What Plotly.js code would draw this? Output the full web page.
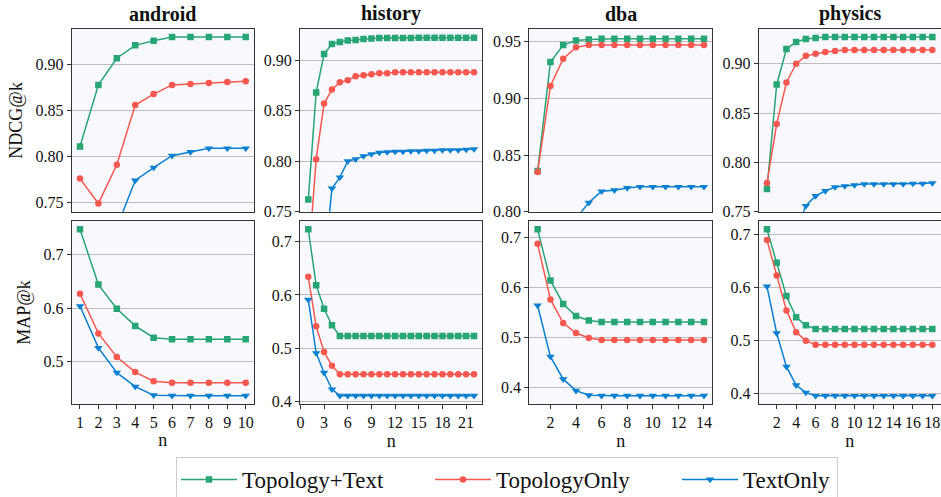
<!DOCTYPE html>
<html>
<head>
<meta charset="utf-8">
<script src="https://cdn.plot.ly/plotly-3.0.1.min.js"></script>
<style>html,body{margin:0;padding:0;background:#fff;}#chart{width:941px;height:497px;}</style>
</head>
<body>
<div id="chart"></div>
<script>
// ---------- data ----------
const seriesNames = ["Topology+Text", "TopologyOnly", "TextOnly"];
const datasets = ["android", "history", "dba", "physics"];

const n_android = [1, 2, 3, 4, 5, 6, 7, 8, 9, 10];
const n_history = [1, 2, 3, 4, 5, 6, 7, 8, 9, 10, 11, 12, 13, 14, 15, 16, 17, 18, 19, 20, 21, 22];
const n_dba = [1, 2, 3, 4, 5, 6, 7, 8, 9, 10, 11, 12, 13, 14];
const n_physics = [1, 2, 3, 4, 5, 6, 7, 8, 9, 10, 11, 12, 13, 14, 15, 16, 17, 18];

// NDCG@k
const ndcg_android_tt = [0.811, 0.878, 0.907, 0.921, 0.926, 0.930, 0.930, 0.930, 0.930, 0.930];
const ndcg_android_to = [0.776, 0.749, 0.791, 0.856, 0.868, 0.878, 0.879, 0.880, 0.881, 0.882];
const ndcg_android_tx = [0.690, 0.700, 0.723, 0.774, 0.788, 0.801, 0.805, 0.809, 0.809, 0.809];

const ndcg_history_tt = [0.762, 0.868, 0.906, 0.916, 0.918, 0.9195, 0.920, 0.921, 0.9215, 0.9218, 0.922, 0.922, 0.922, 0.922, 0.9222, 0.9222, 0.9222, 0.9222, 0.9222, 0.9222, 0.9222, 0.9222];
const ndcg_history_to = [0.698, 0.802, 0.857, 0.871, 0.878, 0.880, 0.884, 0.885, 0.886, 0.887, 0.887, 0.888, 0.888, 0.888, 0.888, 0.888, 0.888, 0.888, 0.888, 0.888, 0.888, 0.888];
const ndcg_history_tx = [0.620, 0.660, 0.694, 0.773, 0.784, 0.800, 0.802, 0.805, 0.807, 0.8085, 0.809, 0.8095, 0.8095, 0.810, 0.810, 0.8105, 0.8105, 0.811, 0.811, 0.811, 0.8115, 0.812];

const ndcg_dba_tt = [0.836, 0.932, 0.947, 0.951, 0.952, 0.9525, 0.9525, 0.9525, 0.9525, 0.9525, 0.9525, 0.9525, 0.9525, 0.9525];
const ndcg_dba_to = [0.835, 0.911, 0.935, 0.945, 0.947, 0.947, 0.947, 0.947, 0.947, 0.947, 0.947, 0.947, 0.947, 0.947];
const ndcg_dba_tx = [0.660, 0.720, 0.760, 0.794, 0.808, 0.818, 0.819, 0.821, 0.822, 0.822, 0.822, 0.822, 0.822, 0.822];

const ndcg_physics_tt = [0.773, 0.879, 0.915, 0.922, 0.925, 0.926, 0.927, 0.927, 0.927, 0.927, 0.927, 0.927, 0.927, 0.927, 0.927, 0.927, 0.927, 0.927];
const ndcg_physics_to = [0.779, 0.839, 0.881, 0.900, 0.908, 0.910, 0.912, 0.913, 0.914, 0.914, 0.914, 0.914, 0.914, 0.914, 0.914, 0.914, 0.914, 0.914];
const ndcg_physics_tx = [0.600, 0.660, 0.700, 0.731, 0.756, 0.766, 0.771, 0.775, 0.776, 0.777, 0.778, 0.778, 0.778, 0.778, 0.778, 0.7785, 0.7785, 0.779];

// MAP@k
const map_android_tt = [0.747, 0.644, 0.599, 0.567, 0.545, 0.542, 0.542, 0.542, 0.542, 0.542];
const map_android_to = [0.627, 0.553, 0.509, 0.481, 0.464, 0.461, 0.461, 0.461, 0.461, 0.461];
const map_android_tx = [0.604, 0.526, 0.480, 0.454, 0.438, 0.437, 0.437, 0.437, 0.437, 0.437];

const map_history_tt = [0.723, 0.618, 0.574, 0.543, 0.523, 0.523, 0.523, 0.523, 0.523, 0.523, 0.523, 0.523, 0.523, 0.523, 0.523, 0.523, 0.523, 0.523, 0.523, 0.523, 0.523, 0.523];
const map_history_to = [0.634, 0.541, 0.493, 0.467, 0.451, 0.451, 0.451, 0.451, 0.451, 0.451, 0.451, 0.451, 0.451, 0.451, 0.451, 0.451, 0.451, 0.451, 0.451, 0.451, 0.451, 0.451];
const map_history_tx = [0.591, 0.491, 0.454, 0.423, 0.411, 0.411, 0.411, 0.411, 0.411, 0.411, 0.411, 0.411, 0.411, 0.411, 0.411, 0.411, 0.411, 0.411, 0.411, 0.411, 0.411, 0.411];

const map_dba_tt = [0.716, 0.614, 0.567, 0.543, 0.534, 0.531, 0.531, 0.531, 0.531, 0.531, 0.531, 0.531, 0.531, 0.531];
const map_dba_to = [0.687, 0.576, 0.529, 0.509, 0.499, 0.495, 0.495, 0.495, 0.495, 0.495, 0.495, 0.495, 0.495, 0.495];
const map_dba_tx = [0.564, 0.462, 0.417, 0.394, 0.385, 0.384, 0.384, 0.384, 0.384, 0.384, 0.384, 0.384, 0.384, 0.384];

const map_physics_tt = [0.710, 0.647, 0.584, 0.544, 0.529, 0.522, 0.522, 0.522, 0.522, 0.522, 0.522, 0.522, 0.522, 0.522, 0.522, 0.522, 0.522, 0.522];
const map_physics_to = [0.690, 0.623, 0.557, 0.516, 0.500, 0.4925, 0.4925, 0.4925, 0.4925, 0.4925, 0.4925, 0.4925, 0.4925, 0.4925, 0.4925, 0.4925, 0.4925, 0.4925];
const map_physics_tx = [0.6025, 0.514, 0.451, 0.416, 0.402, 0.396, 0.396, 0.396, 0.396, 0.396, 0.396, 0.396, 0.396, 0.396, 0.396, 0.396, 0.396, 0.396];

// tick labels
const xticks_android = [1, 2, 3, 4, 5, 6, 7, 8, 9, 10];
const xticks_history = [0, 3, 6, 9, 12, 15, 18, 21];
const xticks_dba = [2, 4, 6, 8, 10, 12, 14];
const xticks_physics = [2, 4, 6, 8, 10, 12, 14, 16, 18];
const yticks_ndcg = {
  android: [0.75, 0.80, 0.85, 0.90],
  history: [0.75, 0.80, 0.85, 0.90],
  dba: [0.80, 0.85, 0.90, 0.95],
  physics: [0.75, 0.80, 0.85, 0.90]
};
const yticks_map = {
  android: [0.5, 0.6, 0.7],
  history: [0.4, 0.5, 0.6, 0.7],
  dba: [0.4, 0.5, 0.6, 0.7],
  physics: [0.4, 0.5, 0.6, 0.7]
};

// ---------- assembly ----------
const nByDs = {android: n_android, history: n_history, dba: n_dba, physics: n_physics};
const xticksByDs = {android: xticks_android, history: xticks_history, dba: xticks_dba, physics: xticks_physics};
const ndcgByDs = {
  android: [ndcg_android_tt, ndcg_android_to, ndcg_android_tx],
  history: [ndcg_history_tt, ndcg_history_to, ndcg_history_tx],
  dba: [ndcg_dba_tt, ndcg_dba_to, ndcg_dba_tx],
  physics: [ndcg_physics_tt, ndcg_physics_to, ndcg_physics_tx]
};
const mapByDs = {
  android: [map_android_tt, map_android_to, map_android_tx],
  history: [map_history_tt, map_history_to, map_history_tx],
  dba: [map_dba_tt, map_dba_to, map_dba_tx],
  physics: [map_physics_tt, map_physics_to, map_physics_tx]
};

const colors = ["#27a574", "#f6584f", "#0b80d0"];
const symbols = ["square", "circle", "triangle-down"];
const msize = [6.5, 6.5, 7.5];
const legendWidths = [183, 176, 89];

const W = 941, H = 497;
const xPix = [[71.7, 254], [300, 482.3], [529.3, 712.3], [758.7, 940.6]];
const yTopPix = [29, 211.7];
const yBotPix = [221, 404];
const xRange = {android: [0.55, 10.45], history: [-0.05, 23.05], dba: [0.35, 14.65], physics: [0.15, 18.85]};
const yRangeTop = {android: [0.740, 0.9388], history: [0.75, 0.9308], dba: [0.80, 0.9612], physics: [0.75, 0.9352]};
const yRangeBot = {android: [0.4215, 0.7625], history: [0.3954, 0.7386], dba: [0.3674, 0.7326], physics: [0.3805, 0.7257]};

const FONT = "Liberation Serif";
const traces = [];
const layout = {
  width: W, height: H,
  margin: {l: 0, r: 0, t: 0, b: 0, autoexpand: false},
  paper_bgcolor: "#ffffff",
  plot_bgcolor: "#f8f8fe",
  font: {family: FONT, color: "#111", size: 16},
  showlegend: true,
  legend: {
    orientation: "h",
    x: 176 / W, xanchor: "left",
    y: (H - 457) / H, yanchor: "top",
    bordercolor: "#cccccc", borderwidth: 1,
    bgcolor: "#ffffff",
    font: {family: FONT, size: 23, color: "#111"},
    itemwidth: 56
  },
  annotations: []
};

function baseAxis() {
  return {
    showline: true, mirror: true, linecolor: "#333", linewidth: 1,
    zeroline: false, fixedrange: true, automargin: false,
    tickfont: {family: FONT, size: 16, color: "#111"}
  };
}

datasets.forEach((ds, i) => {
  const top = i + 1, bot = i + 5;
  const xd = [xPix[i][0] / W, xPix[i][1] / W];
  const ydTop = [(H - yTopPix[1]) / H, (H - yTopPix[0]) / H];
  const ydBot = [(H - yBotPix[1]) / H, (H - yBotPix[0]) / H];

  const xaT = Object.assign(baseAxis(), {
    domain: xd, anchor: "y" + top, range: xRange[ds],
    showgrid: false, showticklabels: false, ticks: ""
  });
  const yaT = Object.assign(baseAxis(), {
    domain: ydTop, anchor: "x" + top, range: yRangeTop[ds],
    tickvals: yticks_ndcg[ds], tickformat: ".2f",
    ticks: "outside", ticklen: 4, tickcolor: "#333",
    showgrid: true, gridcolor: "#bdbdbd", gridwidth: 1
  });
  const xaB = Object.assign(baseAxis(), {
    domain: xd, anchor: "y" + bot, range: xRange[ds],
    tickvals: xticksByDs[ds], ticks: "outside", ticklen: 4, tickcolor: "#333",
    ticklabelstandoff: 0,
    showgrid: false,
    title: {text: "n", font: {family: FONT, size: 18, color: "#111"}, standoff: 3}
  });
  const yaB = Object.assign(baseAxis(), {
    domain: ydBot, anchor: "x" + bot, range: yRangeBot[ds],
    tickvals: yticks_map[ds], tickformat: ".1f",
    ticks: "outside", ticklen: 4, tickcolor: "#333",
    showgrid: true, gridcolor: "#bdbdbd", gridwidth: 1
  });
  if (i === 0) {
    yaT.title = {text: "NDCG@k", font: {family: FONT, size: 18, color: "#111"}, standoff: 8};
    yaB.title = {text: "MAP@k", font: {family: FONT, size: 18, color: "#111"}, standoff: 8};
  }
  const sfx = n => (n === 1 ? "" : String(n));
  layout["xaxis" + sfx(top)] = xaT;
  layout["yaxis" + sfx(top)] = yaT;
  layout["xaxis" + sfx(bot)] = xaB;
  layout["yaxis" + sfx(bot)] = yaB;

  layout.annotations.push({
    text: "<b>" + ds + "</b>", xref: "paper", yref: "paper",
    x: (xd[0] + xd[1]) / 2, y: (H - 14) / H, xanchor: "center", yanchor: "middle",
    showarrow: false, font: {family: FONT, size: 20, color: "#111"}
  });

  for (let s = 0; s < 3; s++) {
    const common = {
      type: "scatter", mode: "lines+markers",
      x: nByDs[ds], name: seriesNames[s], legendgroup: seriesNames[s],
      line: {color: colors[s], width: 1.5},
      marker: {color: colors[s], symbol: symbols[s], size: msize[s]},
      cliponaxis: true, hoverinfo: "skip"
    };
    const tTop = Object.assign({}, common, {
      y: ndcgByDs[ds][s], xaxis: "x" + sfx(top), yaxis: "y" + sfx(top),
      showlegend: i === 0
    });
    if (i === 0) tTop.legendwidth = legendWidths[s];
    traces.push(tTop);
    traces.push(Object.assign({}, common, {
      y: mapByDs[ds][s], xaxis: "x" + sfx(bot), yaxis: "y" + sfx(bot),
      showlegend: false
    }));
  }
});

// legend order: by series
traces.sort((a, b) => (b.showlegend ? 1 : 0) - (a.showlegend ? 1 : 0));
Plotly.newPlot("chart", traces, layout, {staticPlot: true, displayModeBar: false});
</script>
</body>
</html>
